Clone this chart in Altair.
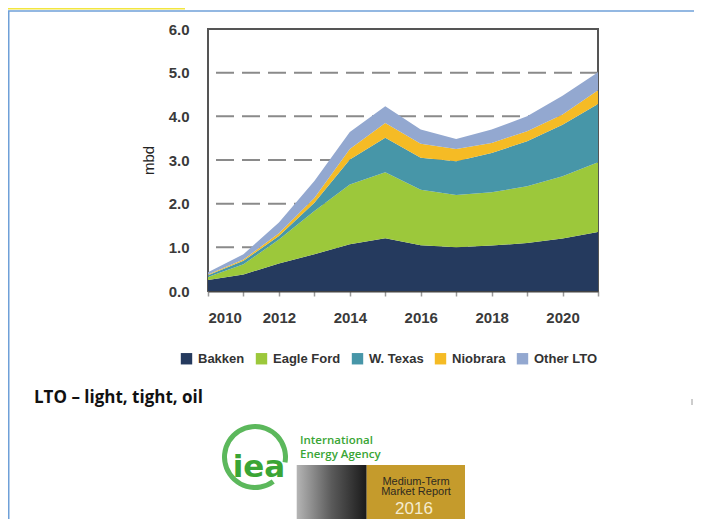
import altair as alt
import pandas as pd

years = list(range(2010, 2022))
series = ["Bakken", "Eagle Ford", "W. Texas", "Niobrara", "Other LTO"]
colors = ["#253a5e", "#9cc83b", "#4796a8", "#f5bb25", "#93a8d0"]

bakken = [0.25, 0.38, 0.63, 0.84, 1.07, 1.21, 1.05, 1.00, 1.04, 1.10, 1.20, 1.35]
eagle_ford = [0.07, 0.23, 0.55, 0.99, 1.37, 1.51, 1.27, 1.20, 1.22, 1.30, 1.43, 1.60]
w_texas = [0.04, 0.08, 0.08, 0.19, 0.57, 0.79, 0.73, 0.77, 0.90, 1.03, 1.18, 1.33]
niobrara = [0.02, 0.03, 0.06, 0.11, 0.24, 0.34, 0.32, 0.28, 0.23, 0.23, 0.23, 0.32]
other_lto = [0.05, 0.12, 0.25, 0.39, 0.39, 0.38, 0.33, 0.23, 0.31, 0.34, 0.43, 0.41]

grid_values = [1, 2, 3, 4, 5]
y_ticks = [0, 1, 2, 3, 4, 5, 6]

values = [bakken, eagle_ford, w_texas, niobrara, other_lto]
rows = []
for i, (name, vals) in enumerate(zip(series, values)):
    for yr, v in zip(years, vals):
        rows.append({"year": yr, "series": name, "value": v, "order": i})
df = pd.DataFrame(rows)
grid_df = pd.DataFrame({"g": grid_values})
one = pd.DataFrame({"k": [0]})

LBL = "Liberation Sans"

y_axis = alt.Axis(
    values=y_ticks, format=".1f", ticks=False, grid=False, domain=False,
    labelFont=LBL, labelFontSize=15, labelFontWeight="bold", labelColor="#3a3a3a",
    labelPadding=19,
    title="mbd", titleFont="Liberation Sans", titleFontSize=15, titleFontWeight="normal",
    titleColor="#222222", titleAngle=270, titleX=-60, titleY=131,
    titleAlign="center", titleBaseline="middle",
)
x_axis = alt.Axis(
    values=years, format="d", labelExpr="datum.value % 2 == 0 ? datum.label : ''",
    grid=False, tickSize=5, tickColor="#9a9a9a", tickWidth=1.5,
    domainColor="#444444", domainWidth=2,
    labelFont=LBL, labelFontSize=15, labelFontWeight="bold", labelColor="#3a3a3a",
    labelPadding=14, title=None,
)

grid = alt.Chart(grid_df).mark_rule(
    color="#8a8a8a", strokeWidth=2, strokeDash=[18, 8]
).encode(y=alt.Y("g:Q", axis=y_axis, scale=alt.Scale(domain=[0, 6], nice=False)))

areas = alt.Chart(df).mark_area(interpolate="linear").encode(
    x=alt.X("year:Q", scale=alt.Scale(domain=[2010, 2021], nice=False, zero=False), axis=x_axis),
    y=alt.Y("value:Q", stack="zero", scale=alt.Scale(domain=[0, 6], nice=False), axis=y_axis),
    color=alt.Color(
        "series:N",
        scale=alt.Scale(domain=series, range=colors),
        legend=alt.Legend(
            orient="none", legendX=-28, legendY=323, direction="horizontal",
            title=None, symbolType="square", symbolSize=130, symbolStrokeWidth=0,
            labelFont=LBL, labelFontSize=13, labelFontWeight="bold", labelColor="#333333",
            labelOffset=5, columnPadding=10, padding=0,
        ),
    ),
    order=alt.Order("order:Q", sort="ascending"),
)


def hline(x1, x2, y, color, w):
    return alt.Chart(one).mark_rule(color=color, strokeWidth=w).encode(
        x=alt.value(x1), x2=alt.value(x2), y=alt.value(y))


def vline(x, y1, y2, color, w):
    return alt.Chart(one).mark_rule(color=color, strokeWidth=w).encode(
        x=alt.value(x), y=alt.value(y1), y2=alt.value(y2))


def txt(t, x, y, **kw):
    return alt.Chart(one).mark_text(text=t, **kw).encode(x=alt.value(x), y=alt.value(y))


deco = [
    hline(-200, -23, -20.25, "#f2e640", 1.5),
    hline(-200, 486, -18, "#6fa0d8", 1.5),
    vline(-199.25, -18, 490, "#6fa0d8", 1.5),
    vline(484, 370, 376, "#9a9a9a", 1),
    txt("LTO – light, tight, oil", -174, 373.7, align="left", baseline="alphabetic",
        font="Open Sans", fontSize=17, fontWeight="bold", color="#111111"),
    alt.Chart(one).mark_arc(color="#5cb85c").encode(
        x=alt.value(47), y=alt.value(428), theta=alt.value(2.5), theta2=alt.value(8.03),
        radius=alt.value(33), radius2=alt.value(28)),
    txt("iea", 51, 448, align="center", baseline="alphabetic", font="DejaVu Sans",
        fontSize=31, fontWeight="bold", color="#3aa535"),
    txt("International", 92, 414.5, align="left", baseline="alphabetic",
        font="Open Sans", fontSize=11.5, fontWeight=600, color="#3aa535"),
    txt("Energy Agency", 92, 428.5, align="left", baseline="alphabetic",
        font="Open Sans", fontSize=11.5, fontWeight=600, color="#3aa535"),
    alt.Chart(one).mark_rect(
        fill=alt.LinearGradient(
            gradient="linear",
            stops=[alt.GradientStop(color="#b5b5b5", offset=0),
                   alt.GradientStop(color="#5a5a5a", offset=0.5),
                   alt.GradientStop(color="#1a1a1a", offset=1)],
            x1=0, x2=1, y1=0, y2=0)
    ).encode(x=alt.value(88.7), x2=alt.value(158.7), y=alt.value(436), y2=alt.value(496)),
    alt.Chart(one).mark_rect(color="#c59b2c").encode(
        x=alt.value(158.7), x2=alt.value(257), y=alt.value(436), y2=alt.value(496)),
    txt("Medium-Term", 208, 455.5, align="center", baseline="alphabetic",
        font="Liberation Sans", fontSize=11, color="#2e2a20"),
    txt("Market Report", 208, 466, align="center", baseline="alphabetic",
        font="Liberation Sans", fontSize=11, color="#2e2a20"),
    txt("2016", 206, 485, align="center", baseline="alphabetic", font="Liberation Sans",
        fontSize=17, color="#f5ecd0"),
]

chart = alt.layer(grid, areas, *deco).properties(
    width=390, height=262,
    padding={"left": 200, "top": 21, "right": 96, "bottom": 228},
    autosize=alt.AutoSizeParams(type="none"),
    background="white",
).configure_view(stroke="#555555", strokeWidth=2)

chart.save("out.html", embed_options={"renderer": "svg", "actions": False})
